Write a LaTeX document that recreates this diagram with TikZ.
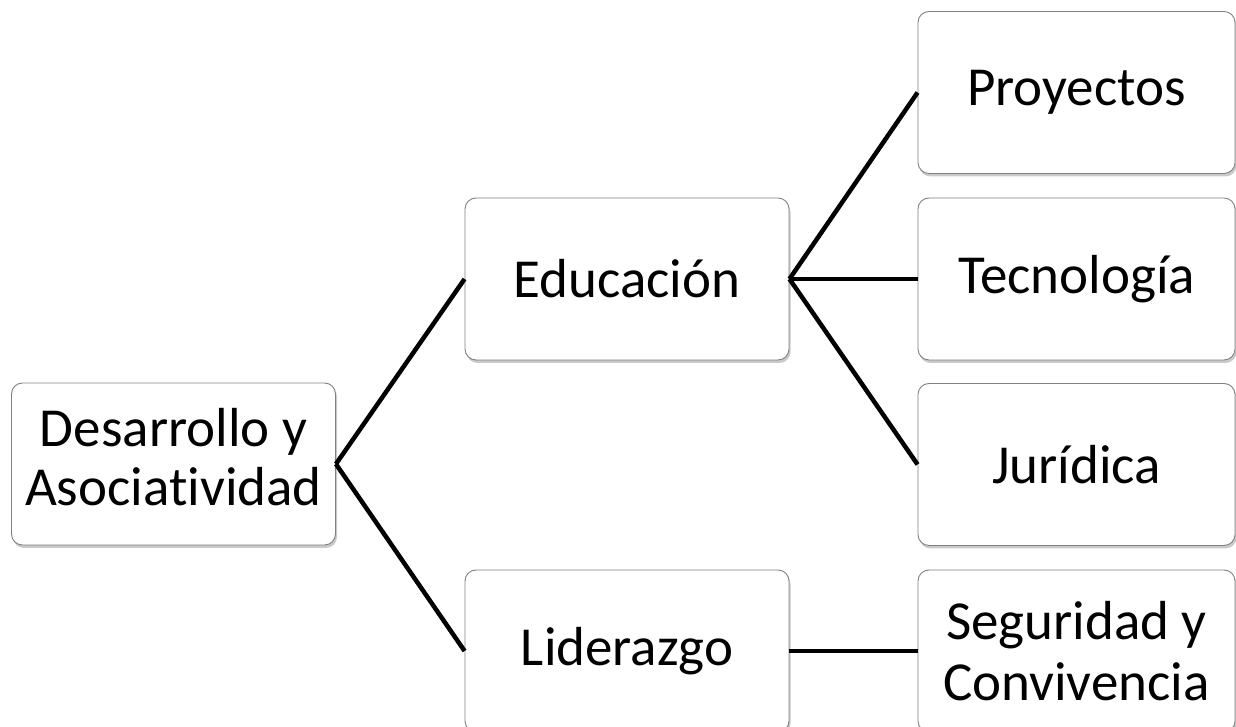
\documentclass[tikz,border=0pt]{standalone}
\usepackage{fontspec}
\setmainfont[Ligatures=NoCommon]{Carlito}
\usetikzlibrary{shadows}
\begin{document}
\begin{tikzpicture}[x=1pt,y=1pt,
  box/.style={draw=black!50, line width=0.9pt, fill=white, rounded corners=11pt,
    minimum height=162pt, align=center, inner sep=0pt,
    font=\fontsize{55}{61}\selectfont,
    drop shadow={shadow xshift=1.5pt, shadow yshift=-3pt, opacity=0.35, fill=black!60}},
  boxl/.style={box, minimum width=324pt},
  boxr/.style={box, minimum width=317pt},
  link/.style={line width=4.5pt, black}]
\useasboundingbox (0,0) rectangle (1236,727);
\node[boxl] (d) at (173.5,263) {\raisebox{-4pt}{\begin{tabular}{@{}c@{}}Desarrollo y\\[-2pt]Asociatividad\end{tabular}}};
\node[boxl] (e) at (627,448) {Educación};
\node[boxl] (l) at (627,76) {Liderazgo};
\node[boxr] (p) at (1076.5,634.5) {Proyectos};
\node[boxr] (t) at (1076.5,448) {Tecnología};
\node[boxr] (j) at (1076.5,262.5) {Jurídica};
\node[boxr] (s) at (1076.5,76) {Seguridad y\\Convivencia};
\draw[link] (d.east) -- (e.west);
\draw[link] (d.east) -- (l.west);
\draw[link] (e.east) -- (p.west);
\draw[link] (e.east) -- (t.west);
\draw[link] (e.east) -- (j.west);
\draw[link] (l.east) -- (s.west);
\end{tikzpicture}
\end{document}
